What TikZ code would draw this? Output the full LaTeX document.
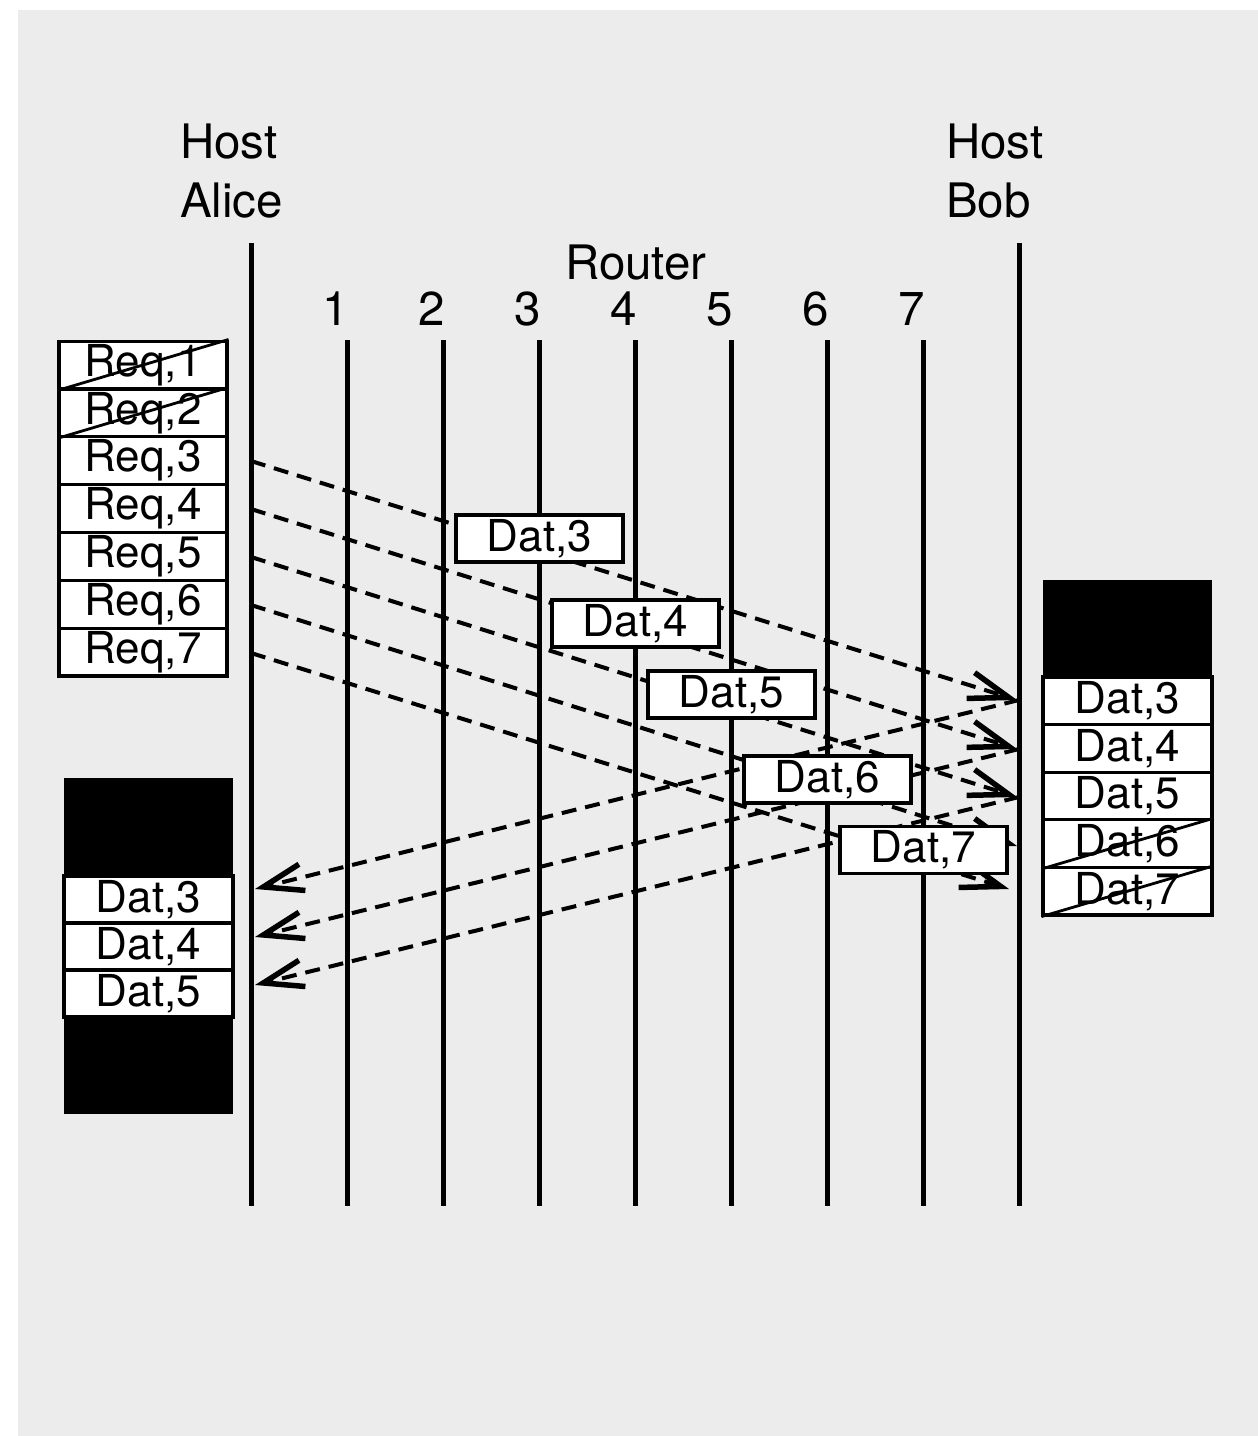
\documentclass[tikz,border=0pt]{standalone}
\usepackage{fontspec}
\setmainfont{TeX Gyre Heros}
\usetikzlibrary{arrows.meta}
\definecolor{bg}{HTML}{ECECEC}
\tikzset{
  life/.style={line width=5pt},
  lbl/.style={font=\fontsize{47.5}{59}\selectfont, inner sep=0pt},
  cell/.style={draw=black, fill=white, line width=3.2pt, minimum width=168pt, minimum height=47.8pt, inner sep=0pt, font=\fontsize{44}{50}\selectfont},
  blk/.style={draw=black, fill=black, line width=1pt, minimum width=168pt, inner sep=0pt},
  pkt/.style={cell, minimum width=167pt, minimum height=47pt},
  msg/.style={line width=4pt, dash pattern=on 15pt off 9pt, -{Straight Barb[length=40pt,width=27pt,line width=5.5pt]}},
  cross/.style={line width=2.8pt}
}
\begin{document}
\begin{tikzpicture}[x=1pt,y=-1pt]
\useasboundingbox (0,0) rectangle (1258,1436);
\fill[bg] (18,10) rectangle (1258,1436);

% labels
\node[lbl, anchor=base west, align=left] (alice) at (180,217) {Host\\Alice};
\node[lbl, anchor=base west, align=left] (bob) at (946,217) {Host\\Bob};
\node[lbl, anchor=base] (router) at (636,279) {Router};

% lifelines
\draw[life] (251,243) coordinate (Atop) -- (251,1206) coordinate (Abot);
\draw[life] (1019,243) coordinate (Btop) -- (1019,1206) coordinate (Bbot);
\foreach \i in {1,...,7}{
  \pgfmathsetmacro{\xx}{251+96*\i}
  \draw[life] (\xx,340) coordinate (R\i top) -- (\xx,1206) coordinate (R\i bot);
  \node[lbl, anchor=base] (n\i) at (\xx-11,325) {\i};
}

% request stack (Alice)
\foreach \i in {1,...,7}{
  \node[cell] (req\i) at (143,{365+47.85*(\i-1)}) {Req,\i};
}
\draw[cross] (req1.south west) -- (req1.north east);
\draw[cross] (req2.south west) -- (req2.north east);

% coordinates on lifelines
\foreach \i/\y in {3/461,4/509,5/557,6/605,7/653}{
  \coordinate (a\i) at (251,\y);
}
\coordinate (b3) at (1017,700);
\coordinate (b4) at (1017,749);
\coordinate (b5) at (1017,797);
\coordinate (b6) at (1017,846);
\coordinate (b7) at (1009,889);
\coordinate (c3) at (1019,700);
\coordinate (c4) at (1019,749);
\coordinate (c5) at (1019,797);
\coordinate (d3) at (255,889);
\coordinate (d4) at (255,937);
\coordinate (d5) at (255,985);

% data from Alice to Bob
\foreach \i in {3,...,7}{
  \draw[msg] (a\i) -- (b\i);
}
% acknowledgements back
\foreach \i in {3,4,5}{
  \draw[msg] (c\i) -- (d\i);
}

% packets in flight
\node[pkt] (p3) at (539.5,538.5) {Dat,3};
\node[pkt] (p4) at (635.5,623.5) {Dat,4};
\node[pkt] (p5) at (731.5,694.5) {Dat,5};
\node[pkt] (p6) at (827.5,779.5) {Dat,6};
\node[pkt] (p7) at (923.5,850) {Dat,7};

% Bob buffer
\node[blk, minimum height=97pt] (bblk) at (1127.5,628.5) {};
\foreach \i in {3,...,7}{
  \node[cell, minimum width=169pt, minimum height=47.6pt] (bd\i) at (1127.5,{700.8+47.6*(\i-3)}) {Dat,\i};
}
\draw[cross] (bd6.south west) -- (bd6.north east);
\draw[cross] (bd7.south west) -- (bd7.north east);

% Alice buffer
\node[blk, minimum height=98pt] (ablk1) at (148.5,827) {};
\foreach \i in {3,4,5}{
  \node[cell, minimum width=169pt, minimum height=47pt] (ad\i) at (148.5,{899.5+47*(\i-3)}) {Dat,\i};
}
\node[blk, minimum height=96pt] (ablk2) at (148.5,1065) {};
\end{tikzpicture}
\end{document}
